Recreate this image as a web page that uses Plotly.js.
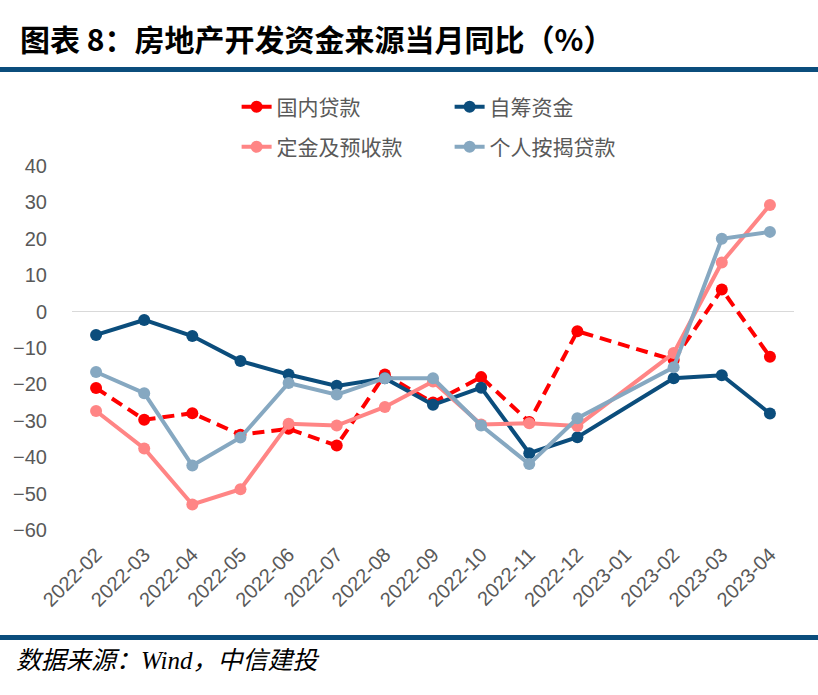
<!DOCTYPE html>
<html><head><meta charset="utf-8">
<script src="https://cdn.plot.ly/plotly-3.0.1.min.js"></script>
<style>body{margin:0;background:#fff}#c{width:818px;height:695px}</style>
</head><body><div id="c"></div>
<script>
const months = ["2022-02","2022-03","2022-04","2022-05","2022-06","2022-07","2022-08","2022-09","2022-10","2022-11","2022-12","2023-01","2023-02","2023-03","2023-04"];
const domesticLoans = [-21.0,-29.7,-27.9,-33.8,-32.2,-36.8,-17.3,-25.0,-18.0,-30.3,-5.4,null,-13.3,6.1,-12.4];
const selfFunded = [-6.4,-2.3,-6.7,-13.6,-17.3,-20.4,-18.3,-25.6,-20.9,-38.9,-34.5,null,-18.3,-17.5,-28.0];
const deposits = [-27.3,-37.6,-53.0,-48.8,-30.8,-31.3,-26.2,-19.2,-31.0,-30.7,-31.4,null,-11.4,13.5,29.3];
const mortgages = [-16.6,-22.4,-42.3,-34.6,-19.6,-22.8,-18.3,-18.3,-31.3,-41.9,-29.3,null,-15.3,20.0,21.9];
const names = ["国内贷款","自筹资金","定金及预收款","个人按揭贷款"];
const yTicks = [-60,-50,-40,-30,-20,-10,0,10,20,30,40];

const cRed="#FF0000", cNavy="#0B4D7C", cPink="#FF8585", cSteel="#86A8C1";
function tr(y,name,color,dash,leg){
  return {x:months,y:y,name:name,type:"scatter",mode:"lines+markers",connectgaps:true,
    line:{color:color,width:4,dash:dash},marker:{color:color,size:12,symbol:"circle"},legend:leg};
}
const data=[
  tr(domesticLoans,names[0],cRed,"12px,7px","legend"),
  tr(selfFunded,names[1],cNavy,"solid","legend"),
  tr(deposits,names[2],cPink,"solid","legend2"),
  tr(mortgages,names[3],cSteel,"solid","legend2")
];
const legFont={family:"Noto Sans CJK SC, sans-serif",size:21,color:"#595959"};
const layout={
  width:818,height:695,
  margin:{l:72,r:24,t:166,b:165},
  paper_bgcolor:"#fff",plot_bgcolor:"#fff",
  showlegend:true,
  xaxis:{type:"category",range:[-0.5,14.5],showgrid:false,zeroline:false,showline:false,
    ticks:"",tickangle:-45,ticklabelstandoff:8,
    tickfont:{family:"Liberation Sans, Arial, sans-serif",size:20,color:"#595959"}},
  yaxis:{range:[-60,40],tickvals:yTicks,showgrid:false,zeroline:true,zerolinecolor:"#D9D9D9",zerolinewidth:1.5,
    showline:false,ticks:"",ticklabelstandoff:24,
    tickfont:{family:"Liberation Sans, Arial, sans-serif",size:20,color:"#595959"}},
  legend:{orientation:"h",x:0.228,xanchor:"left",y:1.162,yanchor:"middle",font:legFont,
    entrywidthmode:"pixels",entrywidth:168,bgcolor:"rgba(0,0,0,0)",traceorder:"normal"},
  legend2:{orientation:"h",x:0.228,xanchor:"left",y:1.052,yanchor:"middle",font:legFont,
    entrywidthmode:"pixels",entrywidth:168,bgcolor:"rgba(0,0,0,0)",traceorder:"normal"},
  shapes:[
    {type:"rect",xref:"paper",yref:"paper",x0:-0.12,x1:1.05,y0:(530-67)/364,y1:(530-72)/364,fillcolor:"#0B4D7C",line:{width:0}},
    {type:"rect",xref:"paper",yref:"paper",x0:-0.12,x1:1.05,y0:(530-635)/364,y1:(530-640)/364,fillcolor:"#0B4D7C",line:{width:0}}
  ],
  annotations:[
    {text:"<b>图表 8：房地产开发资金来源当月同比（%）</b>",xref:"paper",yref:"paper",x:(18-72)/722,y:(530-38)/364,
      xanchor:"left",yanchor:"middle",showarrow:false,font:{family:"Noto Sans CJK SC, sans-serif",size:30,color:"#000"}},
    {text:"<i>数据来源：Wind，中信建投</i>",xref:"paper",yref:"paper",x:(14-72)/722,y:(530-660)/364,
      xanchor:"left",yanchor:"middle",showarrow:false,font:{family:"Liberation Serif, Noto Sans CJK SC, serif",size:25,color:"#000"}}
  ]
};
Plotly.newPlot("c",data,layout,{displayModeBar:false,staticPlot:true});
</script></body></html>
